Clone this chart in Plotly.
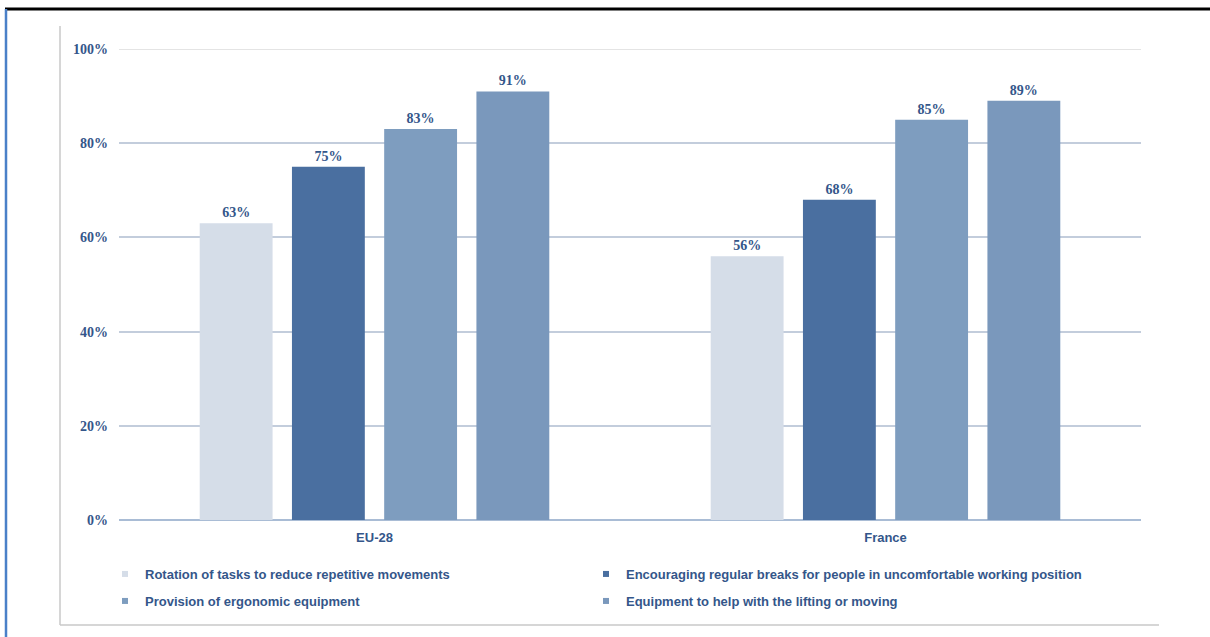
import plotly.graph_objects as go

# Survey shares by region
regions = ["EU-28", "France"]
measures = [
    "Rotation of tasks to reduce repetitive movements",
    "Encouraging regular breaks for people in uncomfortable working position",
    "Provision of ergonomic equipment",
    "Equipment to help with the lifting or moving",
]
rotation = [63, 56]
breaks = [75, 68]
ergonomic = [83, 85]
lifting = [91, 89]
series_values = [rotation, breaks, ergonomic, lifting]
colors = ["#d5dde8", "#4a6fa0", "#7e9dbf", "#7a98bc"]
ytick_vals = [0, 20, 40, 60, 80, 100]
ytick_text = ["0%", "20%", "40%", "60%", "80%", "100%"]

W, H = 1210, 637
ML, MR, MT, MB = 119, 69, 49, 117
PW = W - ML - MR
PH = H - MT - MB

TEXT = "#34568a"
serif = "Liberation Serif"
sans = "Liberation Sans"


def px_x(p):
    return (p - ML) / PW


def px_y(p):
    return (H - MB - p) / PH


# one legend box per entry, laid out in a 2x2 grid below the plot
legend_ids = ["legend", "legend2", "legend3", "legend4"]
legend_pos = [(105, 574), (586, 574), (105, 601), (586, 601)]

fig = go.Figure()
for name, vals, col, lg in zip(measures, series_values, colors, legend_ids):
    fig.add_trace(go.Bar(
        x=regions, y=vals, name=name, marker_color=col, marker_line_width=0,
        text=[f"{v}%" for v in vals], textposition="outside",
        textfont=dict(family=serif, size=14, color=TEXT, weight="bold"),
        cliponaxis=False, showlegend=False,
    ))
    # small square legend keys
    fig.add_trace(go.Scatter(
        x=[None], y=[None], mode="markers", name=name, legend=lg,
        marker=dict(symbol="square", size=6, color=col),
    ))

shapes = [
    # top rule
    dict(type="line", xref="paper", yref="paper", x0=px_x(5), x1=px_x(1210),
         y0=px_y(9), y1=px_y(9), line=dict(color="#000000", width=3)),
    # left accent
    dict(type="line", xref="paper", yref="paper", x0=px_x(6), x1=px_x(6),
         y0=px_y(9), y1=px_y(637), line=dict(color="#4a80c8", width=2.5)),
    # inner frame
    dict(type="line", xref="paper", yref="paper", x0=px_x(60), x1=px_x(60),
         y0=px_y(26), y1=px_y(625), line=dict(color="#c8c8c8", width=1.5)),
    dict(type="line", xref="paper", yref="paper", x0=px_x(60), x1=px_x(1159),
         y0=px_y(625), y1=px_y(625), line=dict(color="#c8c8c8", width=1.5)),
    # lighter top gridline
    dict(type="line", xref="paper", yref="y", x0=0, x1=1, y0=100, y1=100,
         line=dict(color="#e4e4e4", width=2), layer="above"),
]

legend_font = dict(family=sans, size=13, color=TEXT, weight="bold")
legend_layouts = {}
for lg, (lx, ly) in zip(legend_ids, legend_pos):
    legend_layouts[lg] = dict(
        orientation="h", x=px_x(lx), y=px_y(ly), xanchor="left", yanchor="middle",
        font=legend_font, bgcolor="rgba(0,0,0,0)",
    )

fig.update_layout(
    width=W, height=H,
    margin=dict(l=ML, r=MR, t=MT, b=MB),
    paper_bgcolor="white", plot_bgcolor="white",
    barmode="group", bargap=0.278, bargroupgap=0.21,
    shapes=shapes,
    font=dict(family=sans, color=TEXT),
    xaxis=dict(showgrid=False, showline=False, zeroline=False, ticks="",
               ticklabelstandoff=8,
               tickfont=dict(family=sans, size=13, color=TEXT, weight="bold")),
    yaxis=dict(range=[0, 100], tickvals=ytick_vals, ticktext=ytick_text,
               showgrid=True, gridcolor="#c3cddc", gridwidth=1.5,
               zeroline=True, zerolinecolor="#a9bcd5", zerolinewidth=2,
               showline=False, ticks="", ticklabelstandoff=10,
               tickfont=dict(family=serif, size=14, color=TEXT, weight="bold")),
    **legend_layouts,
)

fig.write_html("out.html")
